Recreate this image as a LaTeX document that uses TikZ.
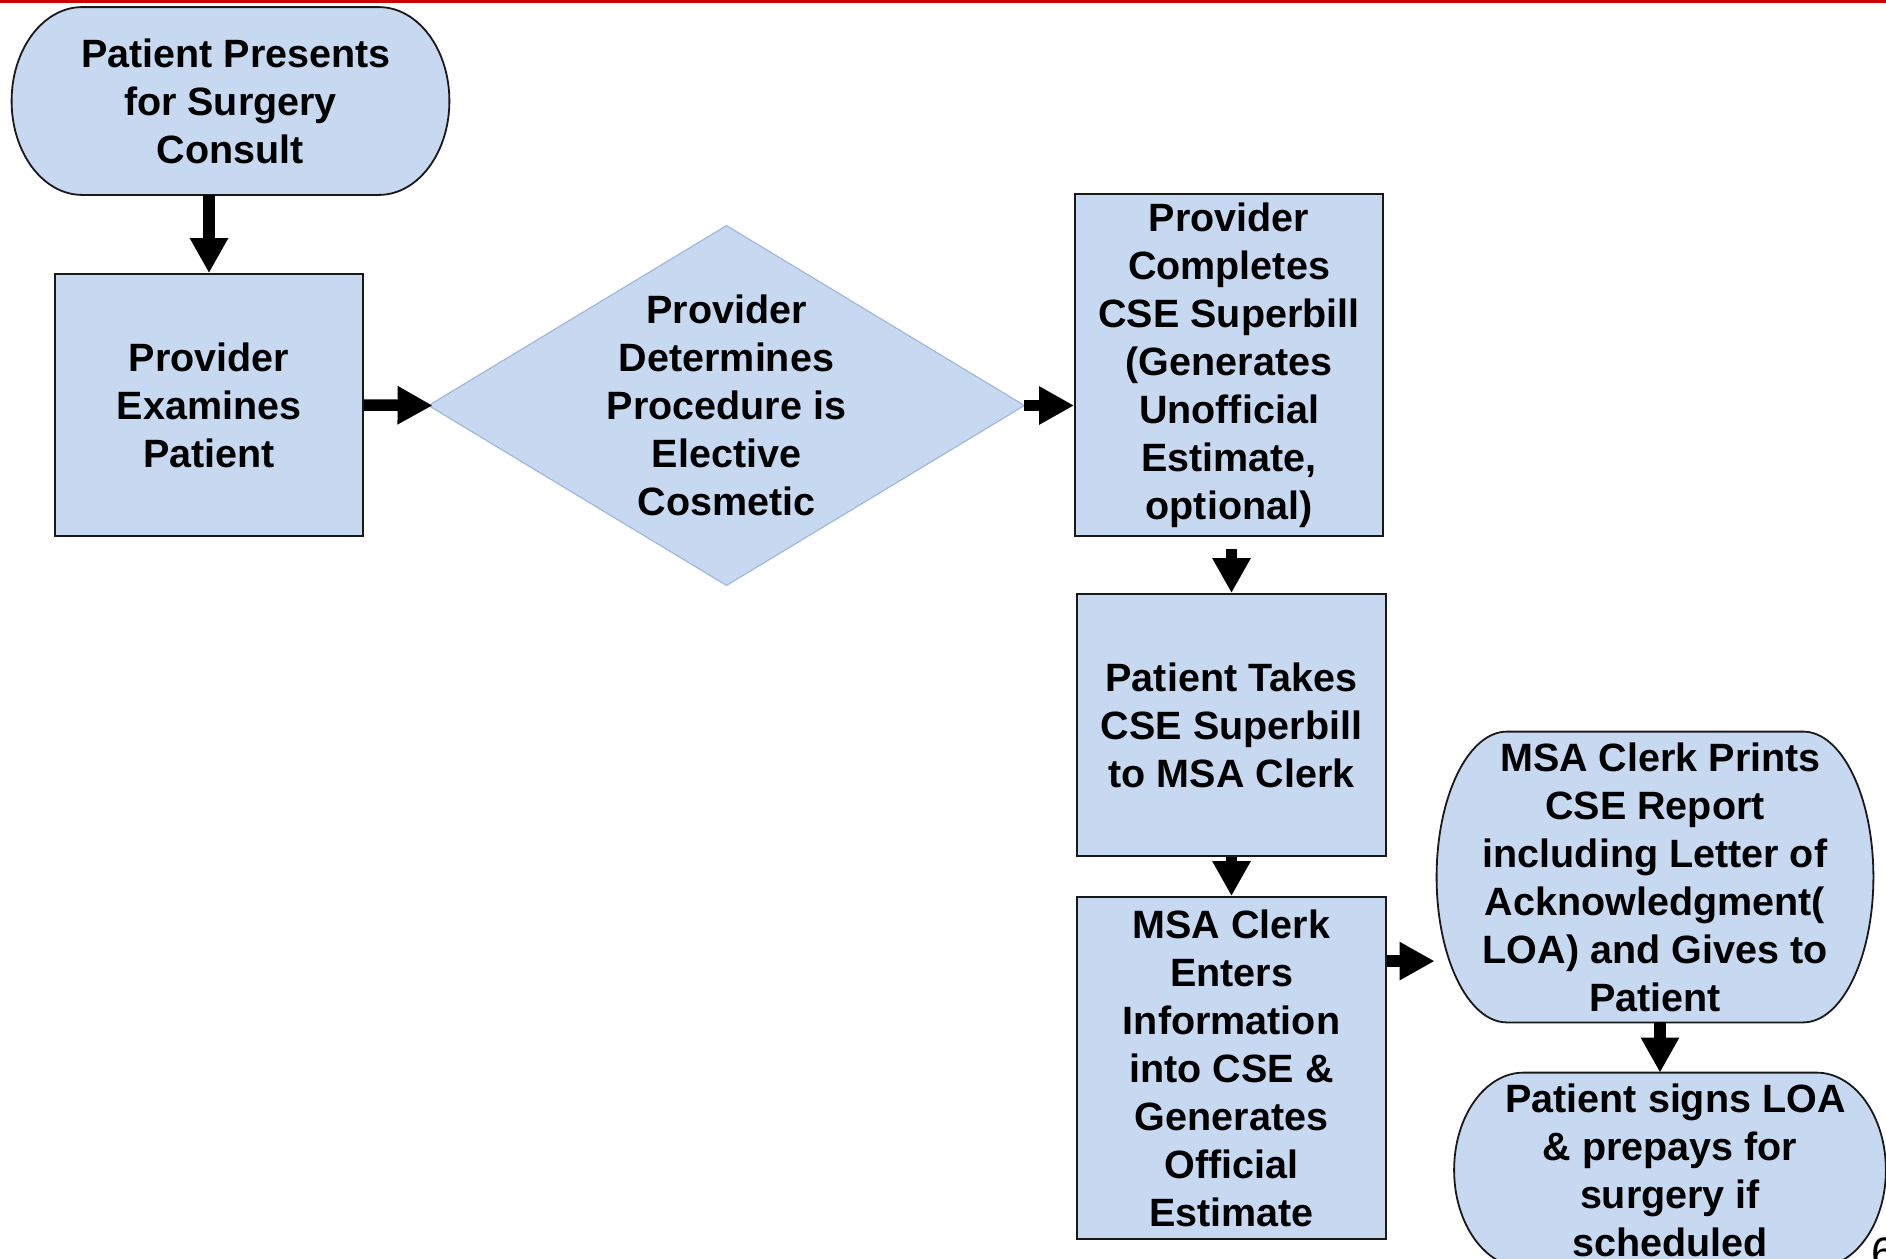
\documentclass[tikz,border=0pt]{standalone}
\usepackage{fontspec}
\setmainfont{Liberation Sans}
\usetikzlibrary{arrows.meta,calc,backgrounds}
\definecolor{boxblue}{RGB}{198,217,241}
\definecolor{diaedge}{RGB}{160,184,218}
\definecolor{topred}{RGB}{204,0,0}
\tikzset{
  txt/.style={inner sep=0pt, align=center, text=black,
    font=\bfseries\fontsize{19.75pt}{24pt}\selectfont},
  procbox/.style={txt, rectangle, draw=black!90, line width=0.9pt, fill=boxblue},
  termbox/.style={txt, rectangle},
  diabox/.style={txt, rectangle},
  termshape/.style={draw=black!90, line width=0.9pt, fill=boxblue},
  diashape/.style={draw=diaedge, line width=0.6pt, fill=boxblue},
  arr/.style={line width=5.75pt, -{Triangle[width=18pt,length=17.5pt]}},
  pagenum/.style={anchor=base west, inner sep=0pt, font=\fontsize{22pt}{26pt}\selectfont}
}
\newcommand\drawterm[1]{%
  \path[termshape] let \p1=(#1.north west), \p2=(#1.south east),
    \n1={(\y1-\y2)/2}, \n2={0.161*(\x2-\x1)} in
    (\x1+\n2,\y1) -- (\x2-\n2,\y1)
    arc[start angle=90, end angle=-90, x radius=\n2, y radius=\n1]
    -- (\x1+\n2,\y2)
    arc[start angle=270, end angle=90, x radius=\n2, y radius=\n1]
    -- cycle;}
\newcommand\lead{\hspace*{0.278em}}
\begin{document}
\begin{tikzpicture}[x=0.5pt,y=0.5pt]
\useasboundingbox (0,0) rectangle (1886,-1259);
\clip (0,0) rectangle (1886,-1259);
\fill[topred] (0,0) rectangle (1886,-2.5);

\node[termbox, minimum width=218.5pt, minimum height=93.5pt] (n1) at (230.5,-101)
  {\lead Patient Presents\\for Surgery\\Consult};
\node[procbox, minimum width=154pt, minimum height=131pt] (n2) at (209,-405)
  {Provider\\Examines\\Patient};
\node[diabox, minimum width=297.5pt, minimum height=179.5pt] (d) at (726.5,-405.5)
  {Provider\\Determines\\Procedure is\\Elective\\Cosmetic};
\node[procbox, minimum width=154pt, minimum height=171pt] (n4) at (1229,-365)
  {Provider\\Completes\\CSE Superbill\\(Generates\\Unofficial\\Estimate,\\optional)};
\node[procbox, minimum width=154.5pt, minimum height=131pt] (n5) at (1231.5,-725)
  {Patient Takes\\CSE Superbill\\to MSA Clerk};
\node[procbox, minimum width=154.5pt, minimum height=171pt] (n6) at (1231.5,-1068)
  {MSA Clerk\\Enters\\Information\\into CSE \&\\Generates\\Official\\Estimate};
\node[termbox, minimum width=218pt, minimum height=145pt] (n7) at (1655,-877)
  {\lead MSA Clerk Prints\\CSE Report\\including Letter of\\Acknowledgment(\\LOA) and Gives to\\Patient};
\node[termbox, minimum width=215.5pt, minimum height=97pt] (n8) at (1670,-1170)
  {\lead Patient signs LOA\\\& prepays for\\surgery if\\scheduled};

\begin{scope}[on background layer]
  \drawterm{n1}
  \drawterm{n7}
  \drawterm{n8}
  \path[diashape] (d.north) -- (d.east) -- (d.south) -- (d.west) -- cycle;
\end{scope}

% connectors
\draw[arr] (n2.north |- n1.south) -- (n2.north);
\draw[arr] (n2.east) -- ([xshift=2pt]d.west);
\draw[arr] (d.east) -- (d.east -| n4.west);
\coordinate (a4s) at (n4.south -| n5.north);
\draw[arr] ([yshift=-6pt]a4s) -- (n5.north);
\draw[arr] (n6.north |- n5.south) -- (n6.north);
\coordinate (a6s) at ([yshift=-32.5pt]n6.north east);
\coordinate (a6e) at (a6s -| n7.west);
\draw[arr] (a6s) -- ([xshift=-1pt]a6e);
\coordinate (a7s) at ([xshift=2.5pt]n7.south);
\coordinate (a7e) at (a7s |- n8.north);
\draw[arr] (a7s) -- (a7e);

\node[pagenum] (pg) at (1871,-1268) {6};
\end{tikzpicture}
\end{document}
